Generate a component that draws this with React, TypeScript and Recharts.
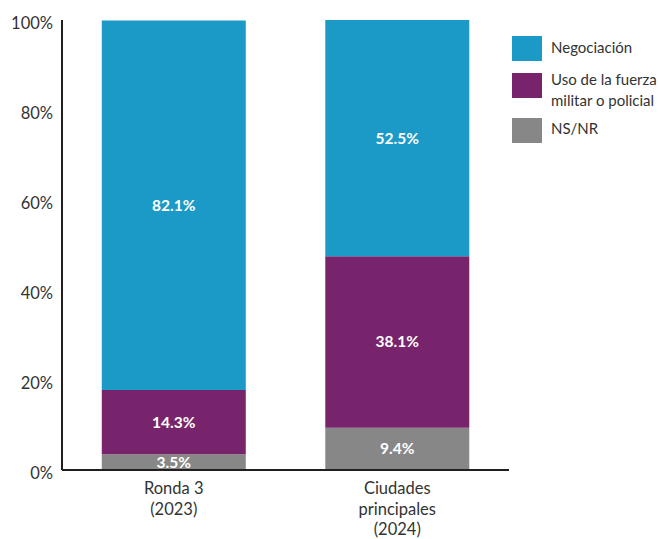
import { BarChart, Bar, XAxis, YAxis, LabelList } from 'recharts';

const categories = ['Ronda 3\n(2023)', 'Ciudades\nprincipales\n(2024)'];
const nsnr = [3.5, 9.4];
const fuerza = [14.3, 38.1];
const negociacion = [82.1, 52.5];
const yTicks = [0, 20, 40, 60, 80, 100];

const SERIES = [
  { key: 'negociacion', name: 'Negociación', color: '#1b9ac7' },
  { key: 'fuerza', name: 'Uso de la fuerza\nmilitar o policial', color: '#78246c' },
  { key: 'nsnr', name: 'NS/NR', color: '#878787' },
];

const data = categories.map((cat, i) => ({
  cat,
  nsnr: nsnr[i],
  fuerza: fuerza[i],
  negociacion: negociacion[i],
}));

const FONT = 'Lato, "Noto Sans", sans-serif';
const TEXT = '#333333';

function XTick({ x, y, payload }: any) {
  const lines = String(payload.value).split('\n');
  return (
    <text x={x} y={y} textAnchor="middle" fill={TEXT} fontSize={16.5} fontFamily={FONT}>
      {lines.map((l, i) => (
        <tspan key={i} x={x} dy={i === 0 ? 24 : 20.5}>
          {l}
        </tspan>
      ))}
    </text>
  );
}

function YTick({ x, y, payload }: any) {
  return (
    <text x={x} y={y + 8.5} textAnchor="end" fill={TEXT} fontSize={16.5} fontFamily={FONT}>
      {`${payload.value}%`}
    </text>
  );
}

function LegendBox() {
  const tops = [36, 73, 118];
  const textShift = [1, -4, 0];
  return (
    <div style={{ position: 'absolute', left: 512, top: 36, width: 146, fontFamily: FONT }}>
      {SERIES.map((s, i) => (
        <div key={s.key} style={{ position: 'absolute', left: 0, top: tops[i] - 36, display: 'flex' }}>
          <div style={{ width: 30, height: 25, background: s.color, flexShrink: 0 }} />
          <div
            style={{
              marginLeft: 9,
              fontSize: 15,
              lineHeight: '21px',
              color: TEXT,
              whiteSpace: 'pre',
              marginTop: textShift[i],
            }}
          >
            {s.name}
          </div>
        </div>
      ))}
    </div>
  );
}

export default function App() {
  return (
    <div style={{ position: 'absolute', left: 0, top: 0, width: 658, height: 539, background: '#fff', overflow: 'hidden' }}>
      <BarChart
        width={658}
        height={539}
        data={data}
        margin={{ top: 20, right: 149, bottom: 0, left: 0 }}
        barCategoryGap="17.8%"
      >
        <XAxis
          dataKey="cat"
          axisLine={{ stroke: '#231f20', strokeWidth: 2 }}
          tickLine={false}
          tickSize={0}
          tickMargin={0}
          height={69}
          interval={0}
          tick={<XTick />}
        />
        <YAxis
          type="number"
          domain={[0, 100]}
          ticks={yTicks}
          width={62}
          axisLine={{ stroke: '#231f20', strokeWidth: 2 }}
          tickLine={false}
          tickSize={0}
          tickMargin={9}
          tick={<YTick />}
        />
        {[...SERIES].reverse().map((s) => (
          <Bar key={s.key} dataKey={s.key} name={s.name} stackId="a" fill={s.color} isAnimationActive={false}>
            <LabelList
              dataKey={s.key}
              position="center"
              fill="#ffffff"
              fontSize={15.5}
              fontWeight={700}
              fontFamily={FONT}
              formatter={(v: any) => `${v}%`}
            />
          </Bar>
        ))}
      </BarChart>
      <LegendBox />
    </div>
  );
}
